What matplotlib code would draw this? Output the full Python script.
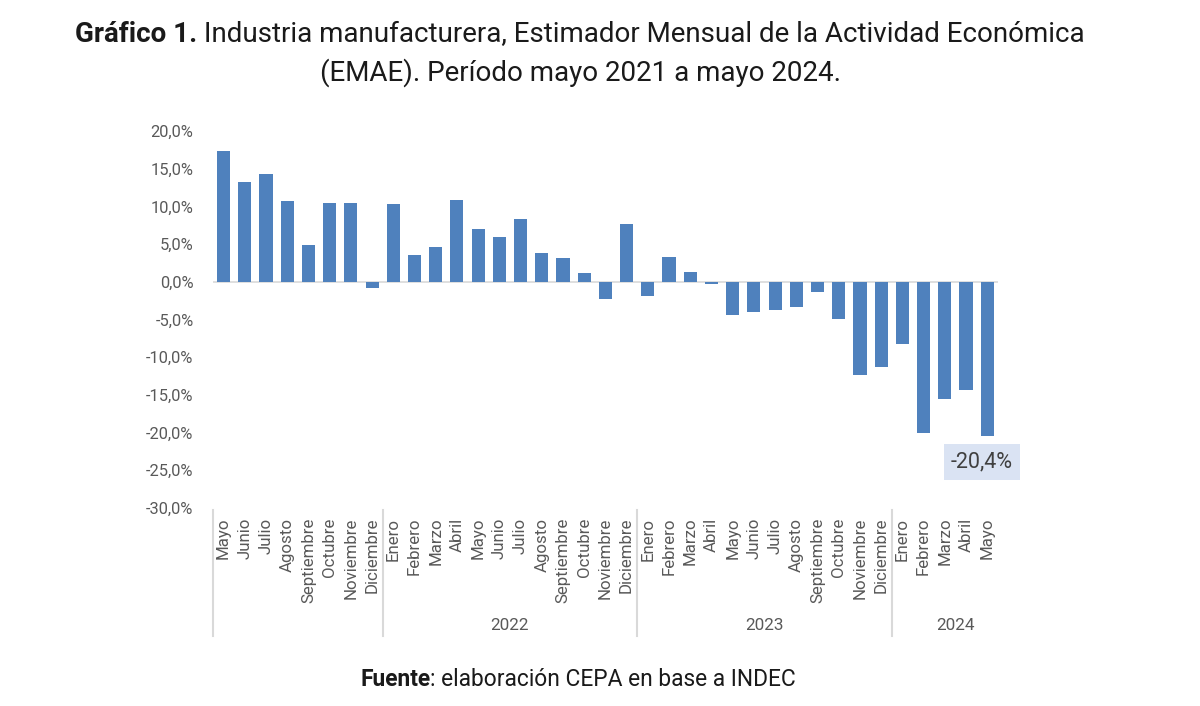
import matplotlib
matplotlib.use('Agg')
from matplotlib import pyplot as plt
from matplotlib.ticker import FuncFormatter
import matplotlib.transforms as mtransforms

plt.rcParams['font.family'] = ['Roboto', 'DejaVu Sans']

meses = ['Mayo', 'Junio', 'Julio', 'Agosto', 'Septiembre', 'Octubre', 'Noviembre', 'Diciembre',
         'Enero', 'Febrero', 'Marzo', 'Abril', 'Mayo', 'Junio', 'Julio', 'Agosto',
         'Septiembre', 'Octubre', 'Noviembre', 'Diciembre',
         'Enero', 'Febrero', 'Marzo', 'Abril', 'Mayo', 'Junio', 'Julio', 'Agosto',
         'Septiembre', 'Octubre', 'Noviembre', 'Diciembre',
         'Enero', 'Febrero', 'Marzo', 'Abril', 'Mayo']
variacion = [17.3, 13.2, 14.3, 10.7, 4.9, 10.5, 10.5, -0.8,
             10.3, 3.6, 4.6, 10.9, 7.0, 5.9, 8.3, 3.8, 3.1, 1.1, -2.3, 7.7,
             -1.9, 3.3, 1.3, -0.3, -4.4, -4.0, -3.7, -3.4, -1.3, -5.0, -12.4, -11.3,
             -8.3, -20.1, -15.6, -14.3, -20.4]
anios = ['', '2022', '2023', '2024']
inicio_anio = [0, 8, 20, 32]   # indice del primer mes de cada anio

azul = '#4f81bd'
gris = '#595959'

fig = plt.figure(figsize=(12, 7.06), dpi=100)
ax = fig.add_axes([0.1775, 0.2805, 0.654, 0.534])

x = range(len(variacion))
ax.bar(x, variacion, width=0.62, color=azul, zorder=2)
ax.axhline(0, color='#d9d9d9', linewidth=1.2, zorder=1)

ax.set_xlim(-0.5, len(variacion) - 0.5)
ax.set_ylim(-30, 20)
ax.set_yticks(range(-30, 21, 5))
ax.yaxis.set_major_formatter(FuncFormatter(lambda v, p: f'{v:.1f}%'.replace('.', ',')))
ax.tick_params(axis='y', length=0, pad=14, labelsize=11.8, labelcolor=gris)
ax.set_xticks(list(x))
ax.set_xticklabels(meses, rotation=90, va='top', ha='center')
ax.tick_params(axis='x', length=0, pad=7, labelsize=12.2, labelcolor=gris)
for s in ax.spines.values():
    s.set_visible(False)

# separadores de anios y etiquetas
trans = mtransforms.blended_transform_factory(ax.transData, ax.transAxes)
bordes = [i - 0.5 for i in inicio_anio] + [len(variacion) + 0.5]
for b in bordes[:-1]:
    ax.plot([b, b], [-0.005, -0.34], transform=trans, color='#d9d9d9',
            linewidth=1.5, clip_on=False)
for k, nombre in enumerate(anios):
    if nombre:
        ax.text((bordes[k] + bordes[k + 1]) / 2, -0.313, nombre, transform=trans,
                ha='center', va='center', fontsize=12.3, color=gris)

# etiqueta del ultimo dato
ult = len(variacion) - 1
ax.annotate(f'{variacion[ult]:.1f}%'.replace('.', ','), xy=(ult, variacion[ult]),
            xytext=(ult - 0.25, variacion[ult] - 3.5), ha='center', va='center',
            fontsize=15.5, color='#404040',
            bbox=dict(boxstyle='square,pad=0.33', facecolor='#dae3f3', edgecolor='none'))


def texto_mixto(partes, xc, yc, size, color):
    r = fig.canvas.get_renderer()
    objs = []
    for txt, peso in partes:
        t = fig.text(0, 0, txt, fontsize=size, fontweight=peso, color=color,
                     va='center', ha='left', transform=None)
        objs.append(t)
    anchos = [t.get_window_extent(r).width for t in objs]
    x0 = xc - sum(anchos) / 2
    for t, w in zip(objs, anchos):
        t.set_position((x0, yc))
        x0 += w


texto_mixto([('Gráfico 1.', 'bold'),
             (' Industria manufacturera, Estimador Mensual de la Actividad Económica', 'normal')],
            580, 706 - 35, 20, '#1a1a1a')
texto_mixto([('(EMAE). Período mayo 2021 a mayo 2024.', 'normal')],
            580, 706 - 73, 20, '#1a1a1a')
texto_mixto([('Fuente', 'bold'), (': elaboración CEPA en base a INDEC', 'normal')],
            578, 706 - 680, 16.4, '#1a1a1a')

plt.savefig('out.png', dpi=100)
